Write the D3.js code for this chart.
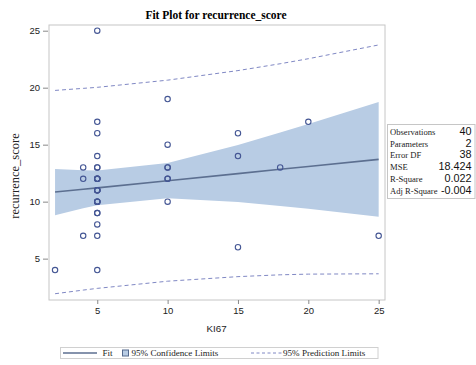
<!DOCTYPE html>
<html>
<head>
<meta charset="utf-8">
<script src="https://cdn.jsdelivr.net/npm/d3@7"></script>
<style>
  html, body { margin: 0; padding: 0; background: #fff; }
  svg { display: block; }
</style>
</head>
<body>
<svg id="chart" width="476" height="365"></svg>
<script>
// ---- data ----
const kiValues = [2, 4, 4, 4,
  5, 5, 5, 5, 5, 5, 5, 5, 5, 5, 5, 5, 5, 5, 5, 5, 5, 5, 5, 5, 5, 5, 5,
  10, 10, 10, 10, 10, 10, 10, 15, 15, 15, 18, 20, 25];
const recurrenceScores = [4, 13, 12, 7,
  25, 17, 16, 14, 13, 13, 12, 12, 12, 12, 11, 11, 11, 11, 10, 10, 10, 10, 9, 9, 8, 7, 4,
  19, 15, 13, 13, 12, 12, 10, 16, 14, 6, 13, 17, 7];

const bandX      = [2, 4, 5, 10, 15, 18, 20, 25];
const fitValues  = [10.84, 11.09, 11.21, 11.84, 12.46, 12.84, 13.09, 13.71];
const clLower    = [8.81, 9.42, 9.68, 10.29, 9.96, 9.62, 9.37, 8.68];
const clUpper    = [12.87, 12.76, 12.74, 13.39, 14.96, 16.06, 16.81, 18.74];
const plLower    = [1.92, 2.24, 2.39, 3.02, 3.42, 3.58, 3.64, 3.67];
const plUpper    = [19.76, 19.94, 20.03, 20.66, 21.50, 22.10, 22.54, 23.75];

const xTicks = [5, 10, 15, 20, 25];
const yTicks = [5, 10, 15, 20, 25];

const statLabels = ["Observations", "Parameters", "Error DF", "MSE", "R-Square", "Adj R-Square"];
const statValues = ["40", "2", "38", "18.424", "0.022", "-0.004"];

const legendLabels = ["Fit", "95% Confidence Limits", "95% Prediction Limits"];

// ---- layout ----
const svg = d3.select("#chart");
const pLeft = 49, pRight = 385, pTop = 25, pBottom = 300;
const serif = "'Liberation Serif', 'Times New Roman', serif";
const sans = "'Liberation Sans', Arial, sans-serif";

const x = d3.scaleLinear().domain([1.57, 25.45]).range([pLeft, pRight]);
const y = d3.scaleLinear().domain([1.37, 25.5]).range([pBottom, pTop]);

const bandColor = "#b8cce4";
const markerColor = "#445694";
const fitColor = "#5c6f90";
const predColor = "#8088c4";
const frameColor = "#c6c6c6";

// title
svg.append("text")
  .attr("x", 216).attr("y", 18.5)
  .attr("text-anchor", "middle")
  .attr("font-family", serif).attr("font-weight", "bold").attr("font-size", 11.5)
  .attr("fill", "#000")
  .text("Fit Plot for recurrence_score");

const g = svg.append("g");

const bandData = bandX.map((v, i) => ({x: v, fit: fitValues[i], cl: clLower[i], cu: clUpper[i], pl: plLower[i], pu: plUpper[i]}));

// confidence band
g.append("path")
  .datum(bandData)
  .attr("fill", bandColor)
  .attr("d", d3.area().x(d => x(d.x)).y0(d => y(d.cl)).y1(d => y(d.cu)));

// prediction limits
["pl", "pu"].forEach(k => {
  g.append("path")
    .datum(bandData)
    .attr("fill", "none")
    .attr("stroke", predColor)
    .attr("stroke-width", 1)
    .attr("stroke-dasharray", "4,3")
    .attr("d", d3.line().x(d => x(d.x)).y(d => y(d[k])));
});

// fit line
g.append("path")
  .datum(bandData)
  .attr("fill", "none")
  .attr("stroke", fitColor)
  .attr("stroke-width", 1.6)
  .attr("d", d3.line().x(d => x(d.x)).y(d => y(d.fit)));

// points
g.selectAll("circle.pt")
  .data(kiValues.map((v, i) => ({x: v, y: recurrenceScores[i]})))
  .join("circle")
  .attr("class", "pt")
  .attr("cx", d => x(d.x)).attr("cy", d => y(d.y))
  .attr("r", 2.7)
  .attr("fill", "none")
  .attr("stroke", markerColor)
  .attr("stroke-width", 1.1);

// frame
svg.append("rect")
  .attr("x", pLeft).attr("y", pTop)
  .attr("width", pRight - pLeft).attr("height", pBottom - pTop)
  .attr("fill", "none").attr("stroke", frameColor).attr("stroke-width", 1);

// axes
const xAxis = d3.axisBottom(x).tickValues(xTicks).tickSize(4).tickSizeOuter(0).tickPadding(3);
const xg = svg.append("g").attr("transform", `translate(0,${pBottom})`).call(xAxis);
xg.select(".domain").remove();
xg.selectAll("line").attr("stroke", "#888");
xg.selectAll("text").attr("font-family", sans).attr("font-size", 9.5).attr("fill", "#222");

const yAxis = d3.axisLeft(y).tickValues(yTicks).tickSize(5).tickSizeOuter(0).tickPadding(3);
const yg = svg.append("g").attr("transform", `translate(${pLeft - 1},0)`).call(yAxis);
yg.select(".domain").remove();
yg.selectAll("line").attr("stroke", "#888");
yg.selectAll("text").attr("font-family", sans).attr("font-size", 9.5).attr("fill", "#222");

// axis titles
svg.append("text")
  .attr("x", 216.5).attr("y", 331.5)
  .attr("text-anchor", "middle")
  .attr("font-family", sans).attr("font-size", 9.8).attr("fill", "#222")
  .text("KI67");

svg.append("text")
  .attr("transform", "translate(19,176) rotate(-90)")
  .attr("text-anchor", "middle")
  .attr("font-family", serif).attr("font-size", 12.5).attr("fill", "#222")
  .text("recurrence_score");

// stats table
svg.append("rect")
  .attr("x", 387.5).attr("y", 124.5).attr("width", 87.5).attr("height", 74)
  .attr("fill", "#fff").attr("stroke", frameColor).attr("stroke-width", 1);
const rowY = d3.scalePoint().domain(statLabels).range([134.8, 194]);
svg.selectAll("text.slab").data(statLabels).join("text")
  .attr("class", "slab")
  .attr("x", 390).attr("y", d => rowY(d))
  .attr("font-family", serif).attr("font-size", 8.6).attr("fill", "#222")
  .text(d => d);
svg.selectAll("text.sval").data(statValues).join("text")
  .attr("class", "sval")
  .attr("x", 471.5).attr("y", (d, i) => rowY(statLabels[i]))
  .attr("text-anchor", "end")
  .attr("font-family", sans).attr("font-size", 10.8).attr("fill", "#111")
  .text(d => d);

// legend
const lg = svg.append("g");
lg.append("rect")
  .attr("x", 60.5).attr("y", 347.5).attr("width", 317.5).attr("height", 11)
  .attr("fill", "#fff").attr("stroke", "#d0d0d0").attr("stroke-width", 1);
lg.append("line").attr("x1", 63).attr("x2", 97).attr("y1", 353).attr("y2", 353)
  .attr("stroke", fitColor).attr("stroke-width", 1.6);
lg.append("rect").attr("x", 122.5).attr("y", 350).attr("width", 6).attr("height", 6)
  .attr("fill", bandColor).attr("stroke", "#556a8e").attr("stroke-width", 1);
lg.append("line").attr("x1", 251).attr("x2", 282).attr("y1", 353).attr("y2", 353)
  .attr("stroke", predColor).attr("stroke-width", 1).attr("stroke-dasharray", "3,2.5");
const legX = [102.5, 131.5, 283];
lg.selectAll("text").data(legendLabels).join("text")
  .attr("x", (d, i) => legX[i]).attr("y", 356.3)
  .attr("font-family", serif).attr("font-size", 9.1).attr("fill", "#222")
  .text(d => d);
</script>
</body>
</html>
